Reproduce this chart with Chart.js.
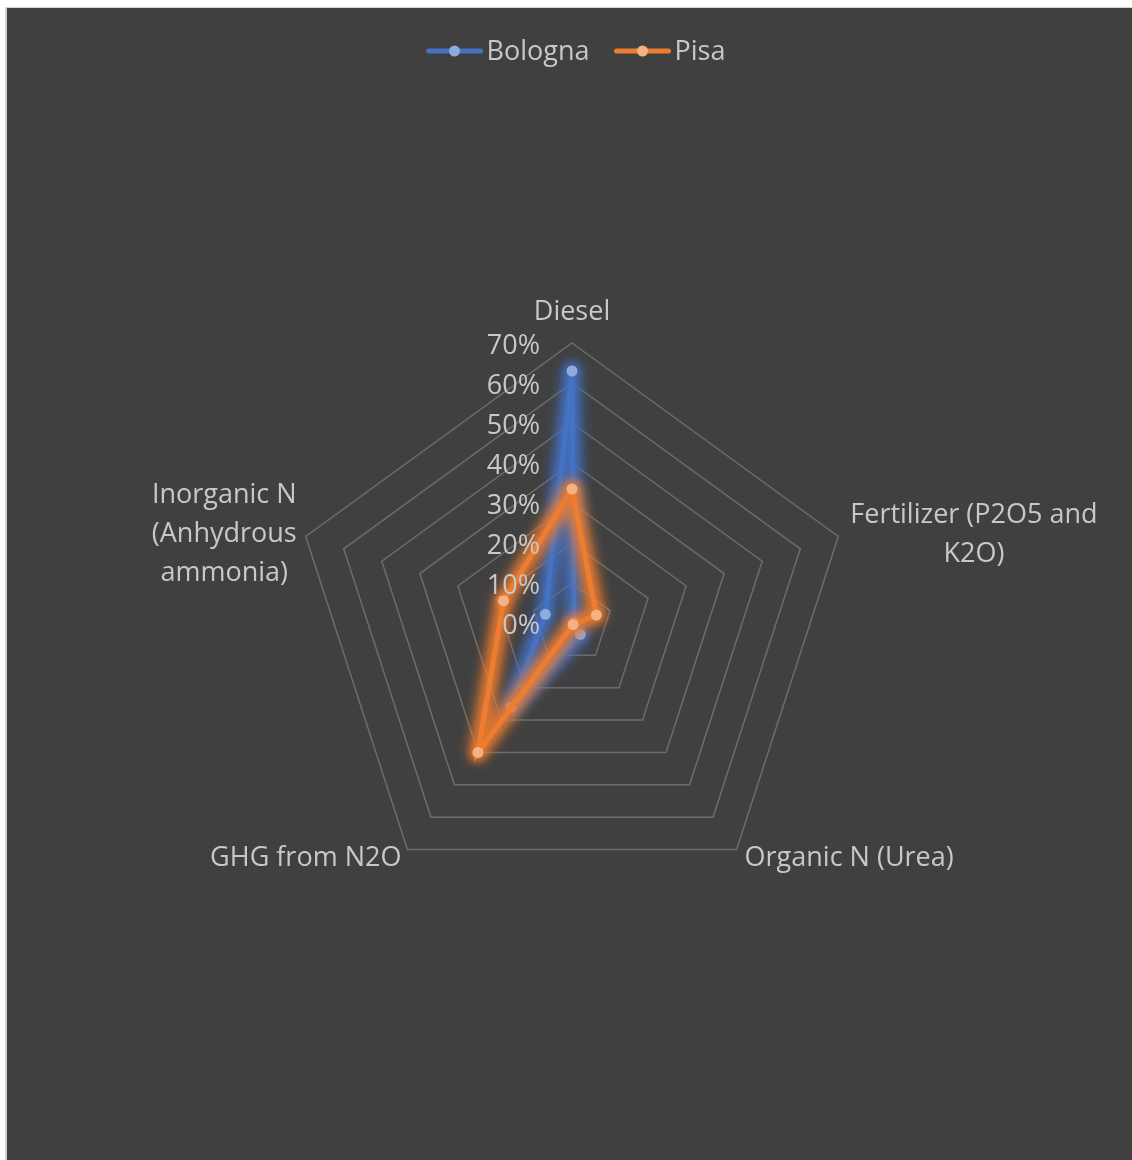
<!DOCTYPE html>
<html lang="en">
<head>
<meta charset="UTF-8">
<title>Emission sources: Bologna vs Pisa</title>
<script src="https://cdn.jsdelivr.net/npm/chart.js"></script>
<style>
  html, body { margin: 0; background: #fff; overflow: hidden; }
  .frame {
    position: absolute;
    left: 5px;
    top: 7px;
    width: 1127px;
    height: 1153px;
    background: #404040;
    border-left: 2px solid #d4d4d4;
    border-top: 1px solid #d4d4d4;
  }
  canvas { display: block; }
</style>
</head>
<body>
<div class="frame">
  <canvas id="radar" width="1125" height="1152"></canvas>
</div>

<script>
  // categories (multi-line labels as arrays)
  const categories = [
    ['Diesel'],
    ['Fertilizer (P2O5 and', 'K2O)'],
    ['Organic N (Urea)'],
    ['GHG from N2O'],
    ['Inorganic N', '(Anhydrous', 'ammonia)']
  ];

  // share of each source, in %
  const bologna = [63, 0.5, 3.5, 26, 7];
  const pisa = [33.5, 6.4, 0.5, 40, 18];

  const scaleMax = 70;
  const scaleStep = 10;

  const textColor = '#c8c8c8';
  const gridColor = '#6c6c6c';
  const textFont = '27px "Open Sans"';
  const lineGap = 39;

  // soft halo behind each series, drawn along the points the controller placed
  const glow = {
    id: 'glow',
    beforeDatasetDraw(chart, args) {
      const ds = chart.data.datasets[args.index];
      const pts = args.meta.data;
      const ctx = chart.ctx;
      ctx.save();
      ctx.filter = 'blur(6px)';
      ctx.strokeStyle = ds.glowColor;
      ctx.lineWidth = 19;
      ctx.lineJoin = 'round';
      ctx.lineCap = 'round';
      ctx.beginPath();
      pts.forEach((p, i) => (i ? ctx.lineTo(p.x, p.y) : ctx.moveTo(p.x, p.y)));
      ctx.closePath();
      ctx.stroke();
      ctx.restore();
      ctx.save();
      ctx.shadowColor = ds.borderColor;
      ctx.shadowBlur = 10;
    },
    afterDatasetDraw(chart) {
      chart.ctx.restore();
    }
  };

  // tick labels, category labels and legend in the Excel style
  const radarText = {
    id: 'radarText',
    afterDraw(chart) {
      const ctx = chart.ctx;
      const r = chart.scales.r;
      ctx.save();
      ctx.font = textFont;
      ctx.fillStyle = textColor;
      ctx.textBaseline = 'middle';

      // value ticks, right aligned left of the vertical axis
      ctx.textAlign = 'right';
      r.ticks.forEach(t => {
        const y = r.yCenter - r.getDistanceFromCenterForValue(t.value);
        ctx.fillText(t.value + '%', r.xCenter - 32, y + 3);
      });

      // category labels
      ctx.textAlign = 'center';
      chart.data.labels.forEach((lines, i) => {
        const p = r.getPointPosition(i, r.drawingArea);
        const deg = Math.round(r.getIndexAngle(i) * 180 / Math.PI);
        const w = Math.max(...lines.map(s => ctx.measureText(s).width));
        const lower = deg > 90 && deg < 270;
        let cx = p.x;
        let cy = p.y + (lower ? 9 : -2);
        if (deg === 0) {
          cy = p.y - 31 - (lines.length - 1) * lineGap;
        } else if (deg < 180) {
          cx = p.x + (lower ? 8 : 12) + w / 2;
        } else {
          cx = p.x - (lower ? 6 : 9) - w / 2;
        }
        lines.forEach((s, k) => {
          ctx.fillText(s, cx, cy + (k - (lines.length - 1) / 2) * lineGap);
        });
      });

      // legend: line with a dot, then the name
      const sets = chart.data.datasets;
      const markW = 56, markGap = 4, itemGap = 25;
      const widths = sets.map(d => markW + markGap + ctx.measureText(d.label).width);
      const total = widths.reduce((a, b) => a + b, 0) + itemGap * (sets.length - 1);
      let x = 569 - total / 2;
      const y = 44;
      ctx.textAlign = 'left';
      sets.forEach((d, i) => {
        ctx.strokeStyle = d.borderColor;
        ctx.lineWidth = 5;
        ctx.lineCap = 'round';
        ctx.beginPath();
        ctx.moveTo(x + 2, y - 1);
        ctx.lineTo(x + markW - 2, y - 1);
        ctx.stroke();
        ctx.fillStyle = d.pointBackgroundColor;
        ctx.beginPath();
        ctx.arc(x + markW / 2, y - 1, 5.5, 0, Math.PI * 2);
        ctx.fill();
        ctx.fillStyle = textColor;
        ctx.fillText(d.label, x + markW + markGap, y);
        x += widths[i] + itemGap;
      });
      ctx.restore();
    }
  };

  new Chart(document.getElementById('radar'), {
    type: 'radar',
    data: {
      labels: categories,
      datasets: [
        {
          label: 'Bologna',
          data: bologna,
          borderColor: '#4472c4',
          glowColor: 'rgba(68, 114, 196, 0.8)',
          pointBackgroundColor: '#8faadc',
          pointBorderColor: '#8faadc',
          borderWidth: 5,
          pointRadius: 5.5,
          pointBorderWidth: 0,
          fill: false,
          order: 1
        },
        {
          label: 'Pisa',
          data: pisa,
          borderColor: '#ed7d31',
          glowColor: 'rgba(237, 125, 49, 0.8)',
          pointBackgroundColor: '#f4b183',
          pointBorderColor: '#f4b183',
          borderWidth: 5,
          pointRadius: 5.5,
          pointBorderWidth: 0,
          fill: false,
          order: 0
        }
      ]
    },
    options: {
      responsive: false,
      animation: false,
      devicePixelRatio: 1,
      layout: { padding: { left: 285, right: 280, top: 335, bottom: 257 } },
      elements: { line: { tension: 0 } },
      plugins: {
        legend: { display: false },
        tooltip: { enabled: false }
      },
      scales: {
        r: {
          min: 0,
          max: scaleMax,
          ticks: { stepSize: scaleStep, display: false },
          angleLines: { display: false },
          grid: { color: gridColor, lineWidth: 1.5 },
          pointLabels: { display: false }
        }
      }
    },
    plugins: [glow, radarText]
  });
</script>
</body>
</html>
